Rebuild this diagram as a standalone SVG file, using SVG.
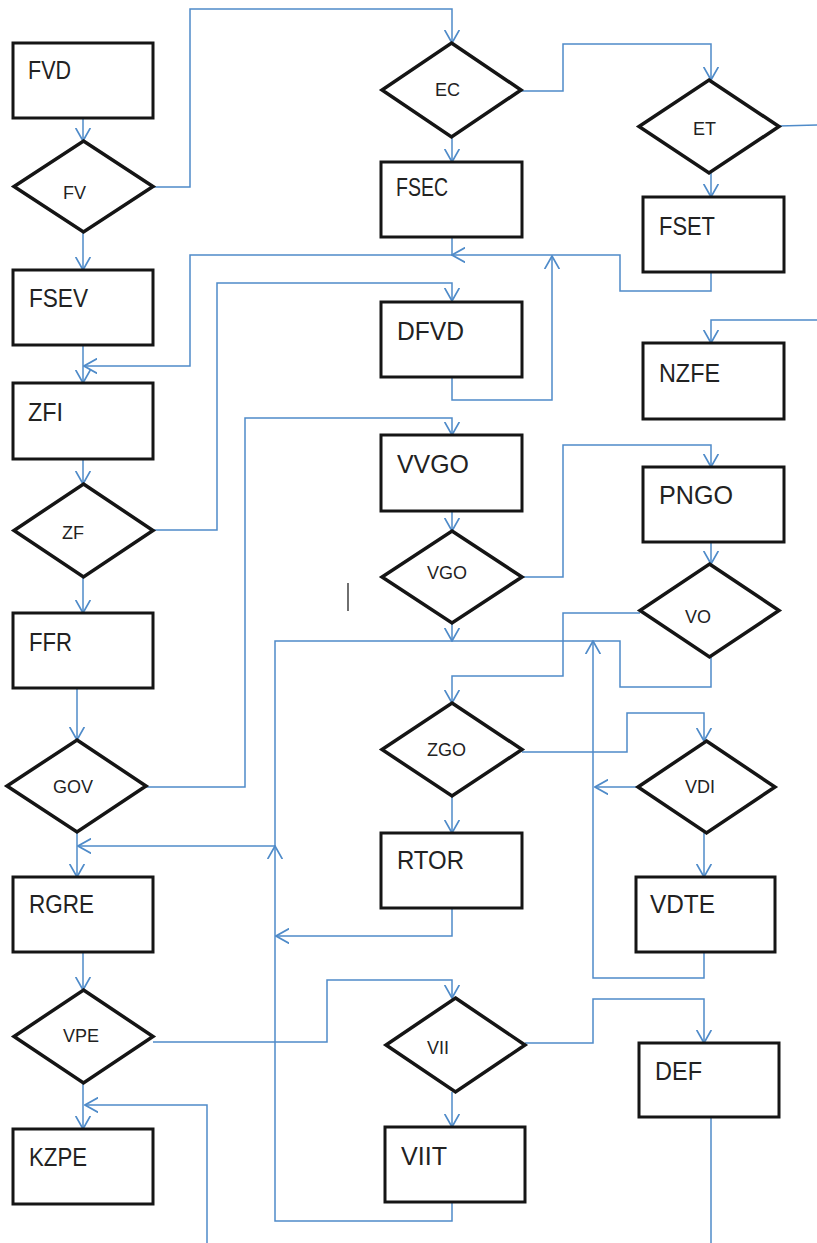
<svg xmlns="http://www.w3.org/2000/svg" width="817" height="1243" viewBox="0 0 817 1243">
<style>
.bg{fill:#fff}
.box{fill:#fff;stroke:#151515;stroke-width:3}
.dia{fill:#fff;stroke:#151515;stroke-width:3.5;stroke-linejoin:miter}
.bt{font-family:"Liberation Sans",Arial,sans-serif;font-size:25px;fill:#222}
.dt{font-family:"Liberation Sans",Arial,sans-serif;font-size:18px;fill:#222}
.c{fill:none;stroke:#4F8BC9;stroke-width:1.5}
.ca{fill:none;stroke:#4F8BC9;stroke-width:1.5;marker-end:url(#ah)}
</style>
<defs>
<marker id="ah" markerUnits="userSpaceOnUse" markerWidth="14" markerHeight="16" viewBox="0 0 12 14" refX="11.5" refY="7" orient="auto">
<path d="M0,0.5 L11.5,7 L0,13.5" fill="none" stroke="#4F8BC9" stroke-width="1.5"/>
</marker>
</defs>
<rect class="bg" x="0" y="0" width="817" height="1243"/>
<g id="connectors">
<path class="ca" d="M83,118 V141"/>
<path class="ca" d="M83,232 V270"/>
<path class="ca" d="M153,187 H190 V9 H452 V43"/>
<path class="ca" d="M452,137 V162"/>
<path class="ca" d="M521,91 H563 V44 H711 V80"/>
<path class="ca" d="M711,173 V197"/>
<path class="c" d="M779,126 L817,125"/>
<path class="c" d="M452,237 V255"/>
<path class="ca" d="M711,272 V291 H620 V255 H452"/>
<path class="ca" d="M452,255 H190 V366 H84"/>
<path class="ca" d="M452,377 V400 H552 V256"/>
<path class="ca" d="M153,530 H217 V283 H452 V301"/>
<path class="ca" d="M83,345 V383"/>
<path class="ca" d="M83,459 V484"/>
<path class="ca" d="M83,577 V613"/>
<path class="ca" d="M77,688 V740"/>
<path class="ca" d="M146,787 H245 V418 H452 V435"/>
<path class="ca" d="M77,832 V877"/>
<path class="ca" d="M817,320 H711 V343"/>
<path class="ca" d="M452,511 V531"/>
<path class="ca" d="M452,623 V641"/>
<path class="ca" d="M522,577 H563 V445 H711 V467"/>
<path class="ca" d="M711,542 V564"/>
<path class="c" d="M711,657 V687 H620 V641 H275 V846"/>
<path class="ca" d="M452,1202 V1221 H275 V846"/>
<path class="ca" d="M275,846 H78"/>
<path class="ca" d="M640,613 H563 V676 H452 V703"/>
<path class="ca" d="M452,796 V833"/>
<path class="ca" d="M522,752 H627 V713 H704 V741"/>
<path class="ca" d="M638,787 H595"/>
<path class="ca" d="M704,833 V877"/>
<path class="ca" d="M704,952 V978 H593 V641"/>
<path class="ca" d="M452,908 V936 H276"/>
<path class="ca" d="M83,952 V990"/>
<path class="ca" d="M153,1042 H327 V980 H452 V998"/>
<path class="ca" d="M83,1083 V1129"/>
<path class="ca" d="M207,1243 V1105 H85"/>
<path class="ca" d="M452,1092 V1127"/>
<path class="ca" d="M525,1043 H593 V999 H704 V1043"/>
<path class="c" d="M711,1117 V1243"/>
</g>
<line x1="348" y1="583" x2="348" y2="611" stroke="#222" stroke-width="1.3"/>
<g id="FVD"><rect class="box" x="13" y="43" width="140" height="75"/><text class="bt" x="28" y="79" textLength="43" lengthAdjust="spacingAndGlyphs">FVD</text></g>
<g id="FSEV"><rect class="box" x="13" y="270" width="140" height="75"/><text class="bt" x="29" y="307" textLength="59" lengthAdjust="spacingAndGlyphs">FSEV</text></g>
<g id="ZFI"><rect class="box" x="13" y="383" width="140" height="76"/><text class="bt" x="28" y="421" textLength="35" lengthAdjust="spacingAndGlyphs">ZFI</text></g>
<g id="FFR"><rect class="box" x="13" y="613" width="140" height="75"/><text class="bt" x="29" y="651" textLength="43" lengthAdjust="spacingAndGlyphs">FFR</text></g>
<g id="RGRE"><rect class="box" x="13" y="877" width="140" height="75"/><text class="bt" x="29" y="913" textLength="65" lengthAdjust="spacingAndGlyphs">RGRE</text></g>
<g id="KZPE"><rect class="box" x="13" y="1129" width="140" height="75"/><text class="bt" x="29" y="1166" textLength="58" lengthAdjust="spacingAndGlyphs">KZPE</text></g>
<g id="FSEC"><rect class="box" x="381" y="162" width="141" height="75"/><text class="bt" x="396" y="196" textLength="52" lengthAdjust="spacingAndGlyphs">FSEC</text></g>
<g id="DFVD"><rect class="box" x="381" y="302" width="141" height="75"/><text class="bt" x="397" y="340" textLength="67" lengthAdjust="spacingAndGlyphs">DFVD</text></g>
<g id="VVGO"><rect class="box" x="381" y="435" width="141" height="76"/><text class="bt" x="397" y="473" textLength="72" lengthAdjust="spacingAndGlyphs">VVGO</text></g>
<g id="RTOR"><rect class="box" x="381" y="833" width="141" height="75"/><text class="bt" x="397" y="869" textLength="67" lengthAdjust="spacingAndGlyphs">RTOR</text></g>
<g id="VIIT"><rect class="box" x="385" y="1127" width="140" height="75"/><text class="bt" x="401" y="1165" textLength="46" lengthAdjust="spacingAndGlyphs">VIIT</text></g>
<g id="FSET"><rect class="box" x="643" y="197" width="141" height="75"/><text class="bt" x="659" y="235" textLength="56" lengthAdjust="spacingAndGlyphs">FSET</text></g>
<g id="NZFE"><rect class="box" x="643" y="343" width="141" height="76"/><text class="bt" x="659" y="382" textLength="61" lengthAdjust="spacingAndGlyphs">NZFE</text></g>
<g id="PNGO"><rect class="box" x="643" y="467" width="141" height="75"/><text class="bt" x="659" y="504" textLength="74" lengthAdjust="spacingAndGlyphs">PNGO</text></g>
<g id="VDTE"><rect class="box" x="636" y="877" width="139" height="75"/><text class="bt" x="650" y="913" textLength="65" lengthAdjust="spacingAndGlyphs">VDTE</text></g>
<g id="DEF"><rect class="box" x="639" y="1043" width="140" height="74"/><text class="bt" x="655" y="1080" textLength="47" lengthAdjust="spacingAndGlyphs">DEF</text></g>
<g id="FV"><polygon class="dia" points="83.5,141 153,186.5 83.5,232 14,186.5"/><text class="dt" x="63" y="199">FV</text></g>
<g id="ZF"><polygon class="dia" points="83.5,484 153,530.5 83.5,577 14,530.5"/><text class="dt" x="62" y="539">ZF</text></g>
<g id="GOV"><polygon class="dia" points="77,740 146,786 77,832 7,786"/><text class="dt" x="53" y="793">GOV</text></g>
<g id="VPE"><polygon class="dia" points="83.5,990 153,1036.5 83.5,1083 14,1036.5"/><text class="dt" x="63" y="1042">VPE</text></g>
<g id="EC"><polygon class="dia" points="451.5,43 521,90 451.5,137 382,90"/><text class="dt" x="435" y="96">EC</text></g>
<g id="VGO"><polygon class="dia" points="452,531 522,577 452,623 382,577"/><text class="dt" x="427" y="579">VGO</text></g>
<g id="ZGO"><polygon class="dia" points="452,703 522,749.5 452,796 382,749.5"/><text class="dt" x="427" y="756">ZGO</text></g>
<g id="VII"><polygon class="dia" points="455.5,998 525,1045 455.5,1092 386,1045"/><text class="dt" x="427" y="1054">VII</text></g>
<g id="ET"><polygon class="dia" points="709,80 779,126.5 709,173 639,126.5"/><text class="dt" x="693" y="135">ET</text></g>
<g id="VO"><polygon class="dia" points="709.5,564 779,610.5 709.5,657 640,610.5"/><text class="dt" x="685" y="623">VO</text></g>
<g id="VDI"><polygon class="dia" points="706.5,741 775,787 706.5,833 638,787"/><text class="dt" x="685" y="793">VDI</text></g>
</svg>
